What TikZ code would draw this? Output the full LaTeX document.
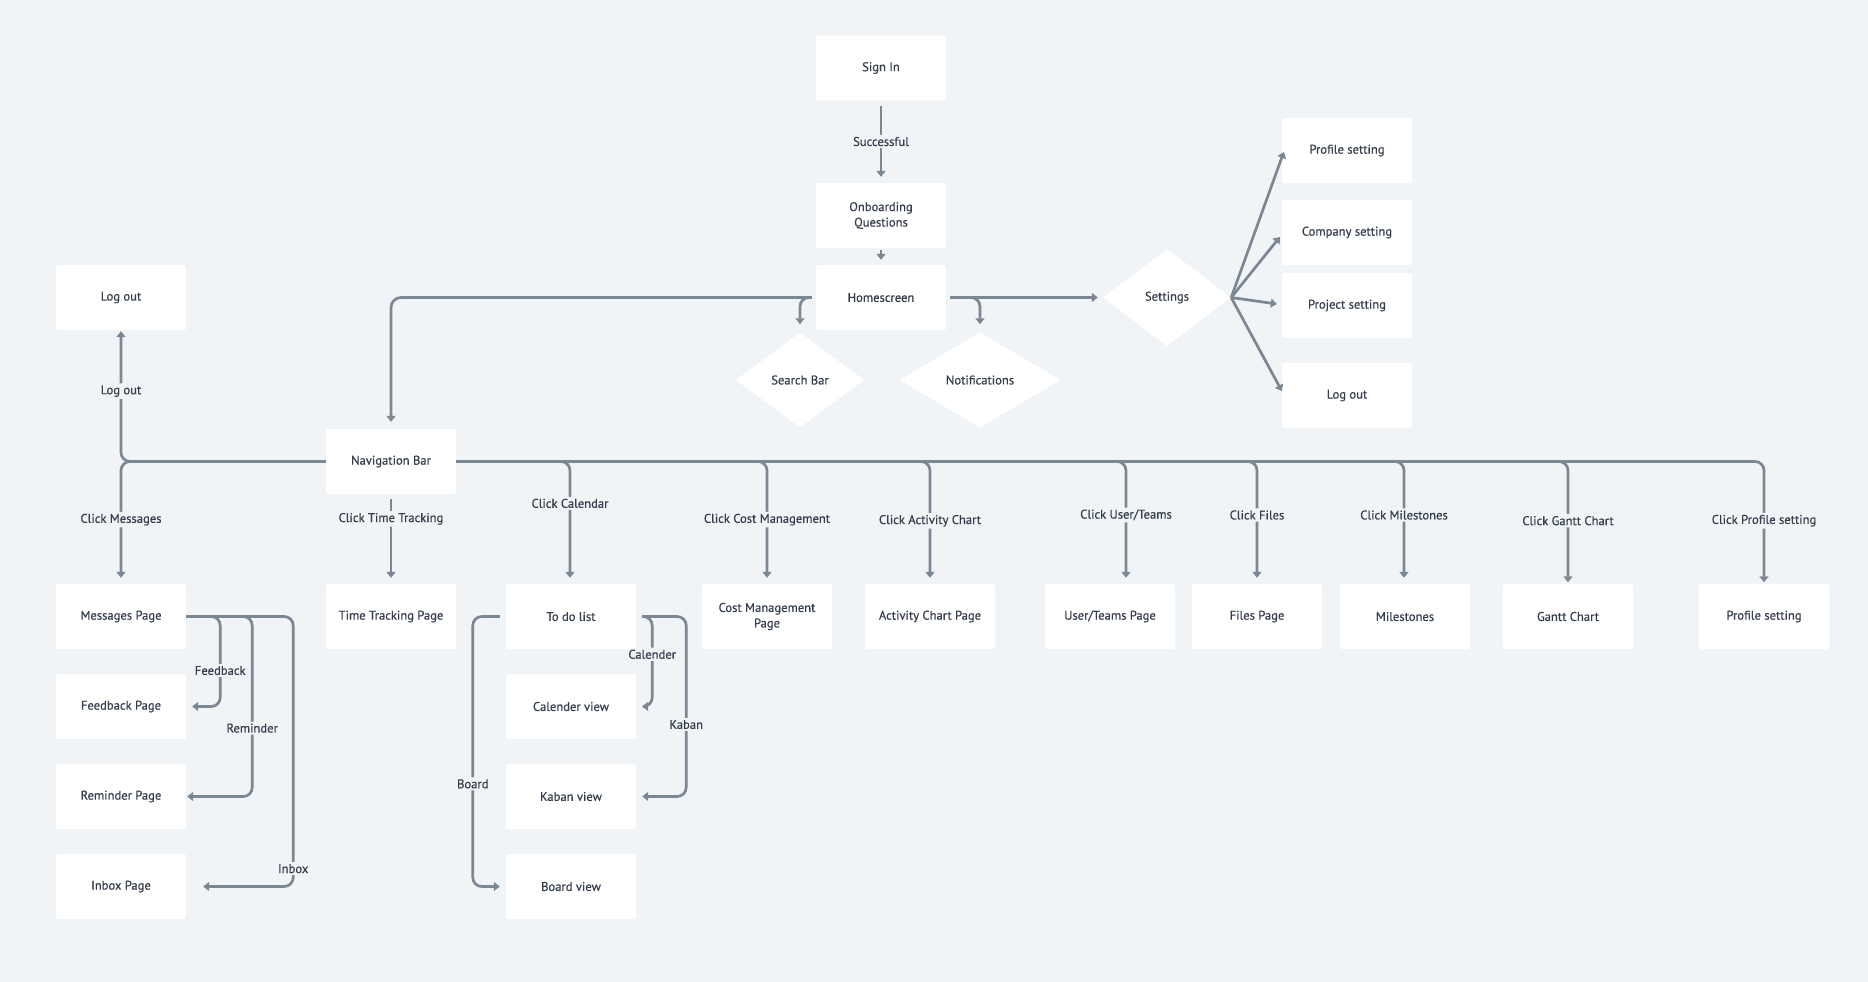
\documentclass[tikz,border=0pt]{standalone}
\usepackage{fontspec}
\setmainfont{PT Sans}[FakeBold=0.4]
\usetikzlibrary{arrows.meta,shapes.geometric}
\definecolor{bgc}{HTML}{F0F4F7}
\definecolor{linec}{HTML}{7C8794}
\definecolor{txtc}{HTML}{333D4B}
\tikzset{
  pbox/.style={fill=white, rounded corners=2pt, minimum width=130pt, minimum height=65pt, inner sep=0pt, align=center, font=\fontsize{12.6}{15.5}\selectfont, text=txtc},
  dbox/.style={diamond, fill=white, inner sep=0pt, align=center, font=\fontsize{12.6}{15.5}\selectfont, text=txtc},
  conn/.style={draw=linec, line width=2.7pt, rounded corners=9pt, -{Triangle[width=9pt,length=6pt]}},
  lbl/.style={fill=bgc, inner sep=2pt, font=\fontsize{12.6}{15.5}\selectfont, text=txtc}
}
\begin{document}
\begin{tikzpicture}[x=1pt,y=-1pt]
\fill[bgc] (0,0) rectangle (1868,982);
\useasboundingbox (0,0) rectangle (1868,982);

% top
\node[pbox] (signin) at (881,68) {Sign In};
\node[pbox] (onboard) at (881,215.5) {Onboarding\\Questions};
\node[pbox] (home) at (881,297.5) {Homescreen};
\node[dbox, minimum width=128pt, minimum height=97pt] (settings) at (1167,297.5) {Settings};
\node[dbox, minimum width=128pt, minimum height=95pt] (search) at (800,380) {Search Bar};
\node[dbox, minimum width=161pt, minimum height=95pt] (notif) at (980,380) {Notifications};
\node[pbox] (prof1) at (1347,150.5) {Profile setting};
\node[pbox] (company) at (1347,232.5) {Company setting};
\node[pbox] (project) at (1347,305.5) {Project setting};
\node[pbox] (logout2) at (1347,395.5) {Log out};

% left
\node[pbox] (logout1) at (121,297.5) {Log out};
\node[pbox] (nav) at (391,461.5) {Navigation Bar};

% row
\node[pbox] (messages) at (121,616.5) {Messages Page};
\node[pbox] (timetrack) at (391,616.5) {Time Tracking Page};
\node[pbox] (todo) at (571,616.5) {To do list};
\node[pbox] (cost) at (767,616.5) {Cost Management\\Page};
\node[pbox] (activity) at (930,616.5) {Activity Chart Page};
\node[pbox] (users) at (1110,616.5) {User/Teams Page};
\node[pbox] (files) at (1257,616.5) {Files Page};
\node[pbox] (milestones) at (1405,616.5) {Milestones};
\node[pbox] (gantt) at (1568,616.5) {Gantt Chart};
\node[pbox] (profile2) at (1764,616.5) {Profile setting};

% message sub pages
\node[pbox] (feedback) at (121,706.5) {Feedback Page};
\node[pbox] (reminder) at (121,796.5) {Reminder Page};
\node[pbox] (inbox) at (121,886.5) {Inbox Page};

% to do sub pages
\node[pbox] (calview) at (571,706.5) {Calender view};
\node[pbox] (kaban) at (571,796.5) {Kaban view};
\node[pbox] (board) at (571,886.5) {Board view};

% top connectors
\draw[conn] ([yshift=-5.5pt]signin.south) -- node[lbl]{Successful} ([yshift=6pt]onboard.north);
\draw[conn] ([yshift=-2pt]onboard.south) -- ([yshift=5pt]home.north);
\draw[conn, rounded corners=10pt] ([xshift=-4pt]home.west) -| ([yshift=7pt]nav.north);
\draw[conn] ([xshift=-4pt]home.west) -| ([yshift=8pt]search.north);
\draw[conn] ([xshift=4pt]home.east) -- ([xshift=-5pt]settings.west);
\draw[conn] ([xshift=4pt]home.east) -| ([yshift=8pt]notif.north);

% settings fan
\draw[conn, rounded corners=0pt] (settings.east) -- ([xshift=2pt,yshift=-1.5pt]prof1.west);
\draw[conn, rounded corners=0pt] (settings.east) -- ([xshift=-2pt,yshift=-4.5pt]company.west);
\draw[conn, rounded corners=0pt] (settings.east) -- ([xshift=-5pt,yshift=1.5pt]project.west);
\draw[conn, rounded corners=0pt] (settings.east) -- ([yshift=4.5pt]logout2.west);

% nav left
\draw[conn] (nav.west) -| node[pos=0.77,lbl]{Log out} ([yshift=-1pt]logout1.south);
\draw[conn] (nav.west) -| node[pos=0.75,lbl]{Click Messages} ([yshift=6pt]messages.north);
\draw[conn] ([yshift=-5pt]nav.south) -- node[pos=0.25,lbl]{Click Time Tracking} ([yshift=6pt]timetrack.north);

% nav right bus
\draw[conn] (nav.east) -| node[pos=0.68,lbl]{Click Calendar} ([xshift=-1pt,yshift=6pt]todo.north);
\draw[conn] (nav.east) -| node[pos=0.75,lbl]{Click Cost Management} ([yshift=6pt]cost.north);
\draw[conn] (nav.east) -| node[pos=0.755,lbl]{Click Activity Chart} ([yshift=6pt]activity.north);
\draw[conn] (nav.east) -| node[pos=0.73,lbl]{Click User/Teams} ([xshift=16pt,yshift=6pt]users.north);
\draw[conn] (nav.east) -| node[pos=0.73,lbl]{Click Files} ([yshift=6pt]files.north);
\draw[conn] (nav.east) -| node[pos=0.73,lbl]{Click Milestones} ([xshift=-1pt,yshift=6pt]milestones.north);
\draw[conn] (nav.east) -| node[pos=0.745,lbl]{Click Gantt Chart} ([yshift=1.5pt]gantt.north);
\draw[conn] (nav.east) -| node[pos=0.745,lbl]{Click Profile setting} ([yshift=1.5pt]profile2.north);

% messages sub connectors
\draw[conn] (messages.east) -| node[pos=0.967,lbl]{Inbox} ([xshift=107pt]inbox.east) -- ([xshift=17pt]inbox.east);
\draw[conn] (messages.east) -| node[pos=0.81,lbl]{Reminder} ([xshift=66pt]reminder.east) -- ([xshift=1pt]reminder.east);
\draw[conn] (messages.east) -| node[pos=0.8,lbl]{Feedback} ([xshift=34pt]feedback.east) -- ([xshift=6pt]feedback.east);

% to do sub connectors
\draw[conn] ([xshift=6pt]todo.east) -| node[pos=0.8,lbl]{Kaban} ([xshift=50pt]kaban.east) -- ([xshift=6pt]kaban.east);
\draw[conn] ([xshift=6pt]todo.east) -| node[pos=0.71,lbl]{Calender} ([xshift=16pt]calview.east) -- ([xshift=6pt]calview.east);
\draw[conn] ([xshift=-6pt]todo.west) -| node[pos=0.81,lbl]{Board} ([xshift=-33pt]board.west) -- ([xshift=-6pt]board.west);
\end{tikzpicture}
\end{document}
